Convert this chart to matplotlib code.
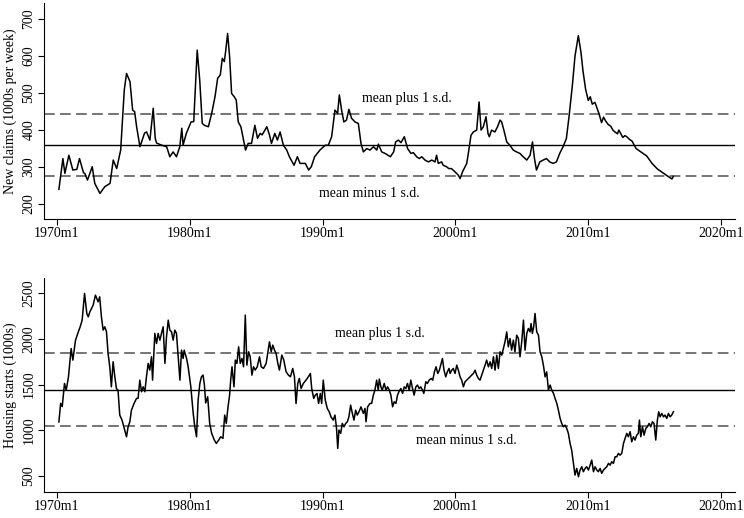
import matplotlib
matplotlib.use("Agg")
import matplotlib.pyplot as plt

plt.rcParams.update({
    "font.family": ["Liberation Serif", "DejaVu Serif"],
    "font.size": 10,
})

# new claims, 1000s per week (decimal year, value)
claims_t = [1970.15, 1970.45, 1970.6, 1970.9, 1971.2, 1971.5, 1971.7, 1972.0, 1972.1, 1972.3,
            1972.66, 1972.85, 1973.24, 1973.6, 1974.0, 1974.24, 1974.5, 1974.8, 1975.07, 1975.24,
            1975.5, 1975.7, 1975.85, 1976.0, 1976.25, 1976.6, 1976.75, 1977.0, 1977.25, 1977.4,
            1977.5, 1977.9, 1978.26, 1978.5, 1978.75, 1979.0, 1979.25, 1979.4, 1979.5, 1979.75,
            1980.1, 1980.3, 1980.45, 1980.56, 1980.75, 1980.94, 1981.1, 1981.4, 1981.65, 1981.9,
            1982.1, 1982.3, 1982.45, 1982.6, 1982.7, 1982.85, 1983.0, 1983.15, 1983.35, 1983.5,
            1983.65, 1983.85, 1984.0, 1984.2, 1984.4, 1984.65, 1984.9, 1985.1, 1985.3, 1985.45,
            1985.8, 1986.0, 1986.15, 1986.4, 1986.6, 1986.8, 1987.05, 1987.3, 1987.5, 1987.85,
            1988.1, 1988.3, 1988.7, 1988.95, 1989.15, 1989.4, 1989.8, 1990.2, 1990.43, 1990.68,
            1990.93, 1991.13, 1991.26, 1991.43, 1991.6, 1991.8, 1991.98, 1992.18, 1992.44, 1992.69,
            1992.89, 1993.07, 1993.32, 1993.57, 1993.83, 1994.08, 1994.2, 1994.45, 1994.7, 1995.1,
            1995.35, 1995.5, 1995.7, 1995.9, 1996.15, 1996.4, 1996.65, 1996.83, 1997.08, 1997.28,
            1997.46, 1997.71, 1997.96, 1998.21, 1998.46, 1998.58, 1998.71, 1998.96, 1999.08, 1999.33,
            1999.5, 1999.7, 1999.97, 2000.22, 2000.35, 2000.53, 2000.72, 2000.85, 2000.97, 2001.17,
            2001.35, 2001.6, 2001.78, 2001.93, 2002.1, 2002.3, 2002.45, 2002.55, 2002.72, 2002.97,
            2003.17, 2003.36, 2003.48, 2003.68, 2003.86, 2004.1, 2004.35, 2004.6, 2004.85, 2005.1,
            2005.37, 2005.62, 2005.8, 2005.95, 2006.1, 2006.35, 2006.6, 2006.85, 2007.1, 2007.35,
            2007.6, 2007.85, 2008.1, 2008.35, 2008.55, 2008.8, 2009.0, 2009.25, 2009.45, 2009.6,
            2009.8, 2010.0, 2010.15, 2010.3, 2010.5, 2010.65, 2010.8, 2011.0, 2011.15, 2011.3,
            2011.5, 2011.7, 2011.85, 2012.0, 2012.2, 2012.3, 2012.6, 2012.75, 2012.9, 2013.1,
            2013.3, 2013.6, 2014.0, 2014.4, 2014.8, 2015.2, 2015.6, 2016.0, 2016.3, 2016.4]
claims_v = [240, 323, 283, 332, 292, 294, 323, 285, 283, 265,
            301, 256, 229, 247, 256, 319, 296, 346, 508, 553,
            531, 454, 450, 409, 355, 392, 395, 373, 459, 378,
            365, 359, 355, 328, 341, 328, 355, 405, 360, 392,
            422, 423, 535, 616, 535, 418, 413, 409, 445, 490,
            540, 549, 594, 585, 612, 661, 598, 499, 490, 481,
            422, 409, 382, 346, 364, 364, 413, 378, 391, 387,
            409, 387, 364, 391, 373, 395, 359, 346, 328, 305,
            328, 310, 310, 292, 301, 328, 346, 359, 359, 382,
            454, 445, 495, 454, 422, 427, 456, 432, 422, 418,
            364, 341, 350, 346, 355, 346, 362, 341, 337, 328,
            341, 368, 373, 366, 382, 350, 337, 339, 328, 323,
            328, 319, 314, 319, 314, 332, 310, 314, 305, 301,
            296, 296, 287, 278, 269, 287, 301, 310, 337, 386,
            395, 400, 476, 400, 409, 436, 391, 382, 400, 395,
            409, 427, 422, 395, 368, 359, 346, 341, 337, 328,
            319, 332, 368, 323, 292, 314, 319, 323, 314, 310,
            314, 337, 355, 377, 436, 520, 600, 655, 610, 560,
            510, 480, 490, 470, 475, 460, 445, 420, 435, 425,
            415, 410, 400, 395, 390, 400, 380, 385, 382, 375,
            370, 350, 340, 330, 310, 295, 285, 275, 268, 275]

# housing starts, 1000s (decimal year, value)
starts_t = [1970.15, 1970.28, 1970.4, 1970.57, 1970.7, 1970.87, 1971.07, 1971.2, 1971.4, 1971.57,
            1971.75, 1971.9, 1972.08, 1972.25, 1972.36, 1972.48, 1972.73, 1972.9, 1973.1, 1973.22,
            1973.35, 1973.48, 1973.6, 1973.73, 1973.85, 1973.98, 1974.1, 1974.23, 1974.36, 1974.48,
            1974.6, 1974.73, 1974.9, 1975.1, 1975.24, 1975.36, 1975.49, 1975.61, 1975.81, 1975.99,
            1976.11, 1976.24, 1976.37, 1976.49, 1976.62, 1976.74, 1976.87, 1976.99, 1977.12, 1977.2,
            1977.37, 1977.5, 1977.62, 1977.75, 1977.87, 1978.0, 1978.13, 1978.25, 1978.38, 1978.5,
            1978.63, 1978.75, 1978.88, 1979.0, 1979.13, 1979.26, 1979.38, 1979.5, 1979.58, 1979.76,
            1979.88, 1980.08, 1980.26, 1980.38, 1980.51, 1980.63, 1980.76, 1980.88, 1981.0, 1981.1,
            1981.2, 1981.35, 1981.5, 1981.65, 1981.85, 1982.0, 1982.18, 1982.33, 1982.5, 1982.63,
            1982.75, 1982.88, 1983.0, 1983.08, 1983.18, 1983.33, 1983.43, 1983.55, 1983.68, 1983.8,
            1983.93, 1984.05, 1984.18, 1984.3, 1984.43, 1984.55, 1984.68, 1984.8, 1984.93, 1985.08,
            1985.25, 1985.38, 1985.55, 1985.75, 1985.88, 1986.0, 1986.13, 1986.25, 1986.38, 1986.5,
            1986.63, 1986.75, 1986.93, 1987.08, 1987.25, 1987.43, 1987.58, 1987.75, 1987.88, 1988.0,
            1988.13, 1988.25, 1988.38, 1988.55, 1988.75, 1988.93, 1989.08, 1989.18, 1989.33, 1989.45,
            1989.58, 1989.7, 1989.83, 1989.93, 1990.05, 1990.2, 1990.35, 1990.5, 1990.63, 1990.8,
            1990.93, 1991.05, 1991.14, 1991.23, 1991.36, 1991.48, 1991.61, 1991.74, 1991.86, 1991.98,
            1992.11, 1992.24, 1992.36, 1992.49, 1992.61, 1992.74, 1992.89, 1993.07, 1993.19, 1993.27,
            1993.39, 1993.57, 1993.69, 1993.82, 1993.94, 1994.07, 1994.19, 1994.27, 1994.39, 1994.49,
            1994.64, 1994.77, 1994.89, 1995.02, 1995.14, 1995.27, 1995.39, 1995.52, 1995.64, 1995.74,
            1995.89, 1996.02, 1996.14, 1996.27, 1996.39, 1996.52, 1996.64, 1996.77, 1996.89, 1997.02,
            1997.14, 1997.27, 1997.39, 1997.52, 1997.62, 1997.77, 1997.89, 1998.02, 1998.17, 1998.29,
            1998.42, 1998.54, 1998.67, 1998.79, 1998.92, 1999.02, 1999.14, 1999.27, 1999.39, 1999.52,
            1999.6, 1999.72, 1999.84, 1999.97, 2000.1, 2000.22, 2000.35, 2000.47, 2000.6, 2000.72,
            2000.85, 2000.97, 2001.1, 2001.22, 2001.35, 2001.48, 2001.6, 2001.73, 2001.85, 2001.98,
            2002.1, 2002.23, 2002.35, 2002.48, 2002.61, 2002.73, 2002.86, 2002.98, 2003.11, 2003.23,
            2003.36, 2003.49, 2003.61, 2003.73, 2003.86, 2003.98, 2004.11, 2004.23, 2004.36, 2004.48,
            2004.61, 2004.74, 2004.86, 2004.99, 2005.12, 2005.24, 2005.37, 2005.49, 2005.62, 2005.69,
            2005.79, 2005.89, 2005.99, 2006.12, 2006.25, 2006.37, 2006.5, 2006.62, 2006.75, 2006.87,
            2007.0, 2007.13, 2007.25, 2007.38, 2007.5, 2007.63, 2007.75, 2007.88, 2008.0, 2008.12,
            2008.25, 2008.38, 2008.5, 2008.63, 2008.75, 2008.88, 2009.0, 2009.13, 2009.26, 2009.38,
            2009.51, 2009.63, 2009.76, 2009.88, 2010.01, 2010.14, 2010.26, 2010.39, 2010.51, 2010.64,
            2010.76, 2010.89, 2011.01, 2011.14, 2011.26, 2011.39, 2011.52, 2011.64, 2011.77, 2011.89,
            2012.02, 2012.14, 2012.27, 2012.39, 2012.52, 2012.65, 2012.77, 2012.9, 2013.02, 2013.15,
            2013.27, 2013.4, 2013.52, 2013.65, 2013.77, 2013.85, 2013.95, 2014.08, 2014.2, 2014.33,
            2014.45, 2014.58, 2014.7, 2014.83, 2014.95, 2015.08, 2015.2, 2015.3, 2015.41, 2015.53,
            2015.66, 2015.78, 2015.91, 2016.03, 2016.16, 2016.28, 2016.41]
starts_v = [1093, 1295, 1260, 1513, 1440, 1585, 1895, 1768, 1986, 2060,
            2132, 2205, 2497, 2278, 2241, 2296, 2370, 2478, 2405, 2460,
            2241, 2096, 2132, 2080, 1841, 1695, 1476, 1750, 1585, 1457,
            1440, 1167, 1113, 1003, 930, 1040, 1094, 1221, 1295, 1349,
            1350, 1549, 1422, 1476, 1422, 1585, 1732, 1659, 1804, 1549,
            2060, 1950, 2060, 1986, 2060, 2132, 1732, 2023, 2205, 2096,
            2077, 1986, 2096, 2060, 1804, 1549, 1877, 1786, 1877, 1786,
            1695, 1476, 1185, 1040, 930, 1331, 1513, 1586, 1604, 1500,
            1300, 1367, 1076, 967, 894, 857, 894, 930, 912, 1167,
            1076, 1257, 1385, 1549, 1695, 1476, 1768, 1732, 1913, 1732,
            1786, 1695, 2260, 1713, 1859, 1804, 1604, 1695, 1659, 1695,
            1804, 1695, 1677, 1732, 1859, 1968, 1859, 1932, 1877, 1841,
            1732, 1659, 1823, 1768, 1641, 1604, 1586, 1677, 1586, 1294,
            1513, 1567, 1458, 1513, 1549, 1586, 1622, 1458, 1349, 1385,
            1403, 1294, 1403, 1294, 1549, 1331, 1240, 1203, 1148, 1112,
            1167, 1021, 803, 1003, 967, 1076, 1039, 1076, 1094, 1148,
            1276, 1185, 1112, 1221, 1167, 1203, 1257, 1185, 1240, 1094,
            1257, 1295, 1295, 1385, 1440, 1549, 1440, 1560, 1476, 1440,
            1513, 1440, 1476, 1440, 1385, 1258, 1312, 1295, 1385, 1421,
            1458, 1404, 1476, 1458, 1513, 1440, 1549, 1458, 1385, 1476,
            1495, 1458, 1476, 1440, 1404, 1531, 1513, 1549, 1567, 1549,
            1640, 1695, 1622, 1658, 1732, 1786, 1658, 1585, 1640, 1677,
            1622, 1658, 1677, 1622, 1713, 1658, 1585, 1549, 1476, 1531,
            1549, 1567, 1585, 1604, 1622, 1658, 1604, 1567, 1549, 1604,
            1658, 1713, 1768, 1695, 1749, 1677, 1804, 1658, 1822, 1677,
            1859, 1822, 1895, 1968, 2077, 1913, 2004, 1877, 1986, 1859,
            2041, 2004, 1804, 1968, 2205, 1877, 2059, 2114, 2077, 2168,
            2059, 2132, 2278, 2077, 2041, 1859, 1804, 1713, 1585, 1640,
            1440, 1495, 1440, 1404, 1349, 1295, 1221, 1130, 1076, 1039,
            1057, 1021, 967, 857, 784, 639, 511, 584, 493, 566,
            602, 548, 584, 602, 566, 620, 675, 548, 602, 566,
            548, 584, 530, 566, 584, 602, 639, 620, 657, 639,
            711, 711, 748, 729, 748, 857, 912, 967, 930, 985,
            875, 930, 894, 948, 967, 1112, 930, 1039, 948, 1021,
            1039, 1076, 1039, 1094, 1076, 894, 1112, 1203, 1148, 1185,
            1148, 1167, 1130, 1185, 1148, 1167, 1203]

# reference lines (mean and +/- 1 s.d.)
claims_mean, claims_sd = 359, 84
starts_mean, starts_sd = 1444, 399

xticks = [1970, 1980, 1990, 2000, 2010, 2020]
xticklabels = ["1970m1", "1980m1", "1990m1", "2000m1", "2010m1", "2020m1"]


def style_axis(ax, yticks, ylabel):
    ax.spines["top"].set_visible(False)
    ax.spines["right"].set_visible(False)
    ax.set_xlim(1969.02, 2021.05)
    ax.set_xticks(xticks)
    ax.set_xticklabels(xticklabels)
    ax.set_yticks(yticks)
    ax.set_yticklabels([str(v) for v in yticks], rotation=90, va="center")
    ax.tick_params(direction="out", length=4, width=0.8, pad=2)
    ax.set_ylabel(ylabel, labelpad=4)


def ref_lines(ax, mean, sd):
    ax.axhline(mean, color="black", lw=1.0)
    for y in (mean + sd, mean - sd):
        ax.axhline(y, color="#505050", lw=1.1, dashes=(7, 3.5))


fig = plt.figure(figsize=(7.44, 5.18), dpi=100)
ax1 = fig.add_axes([0.059, 0.577, 0.929, 0.417])
ax2 = fig.add_axes([0.059, 0.050, 0.929, 0.413])

ref_lines(ax1, claims_mean, claims_sd)
ax1.plot(claims_t, claims_v, color="black", lw=1.1)
ax1.set_ylim(159.5, 743)
style_axis(ax1, [200, 300, 400, 500, 600, 700], "New claims (1000s per week)")
ax1.text(1996.35, 486, "mean plus 1 s.d.", ha="center", va="center")
ax1.text(1993.5, 229, "mean minus 1 s.d.", ha="center", va="center")

ref_lines(ax2, starts_mean, starts_sd)
ax2.plot(starts_t, starts_v, color="black", lw=1.1)
ax2.set_ylim(325, 2664)
style_axis(ax2, [500, 1000, 1500, 2000, 2500], "Housing starts (1000s)")
ax2.text(1994.3, 2060, "mean plus 1 s.d.", ha="center", va="center")
ax2.text(2000.8, 893, "mean minus 1 s.d.", ha="center", va="center")

fig.savefig("out.png", dpi=100)
